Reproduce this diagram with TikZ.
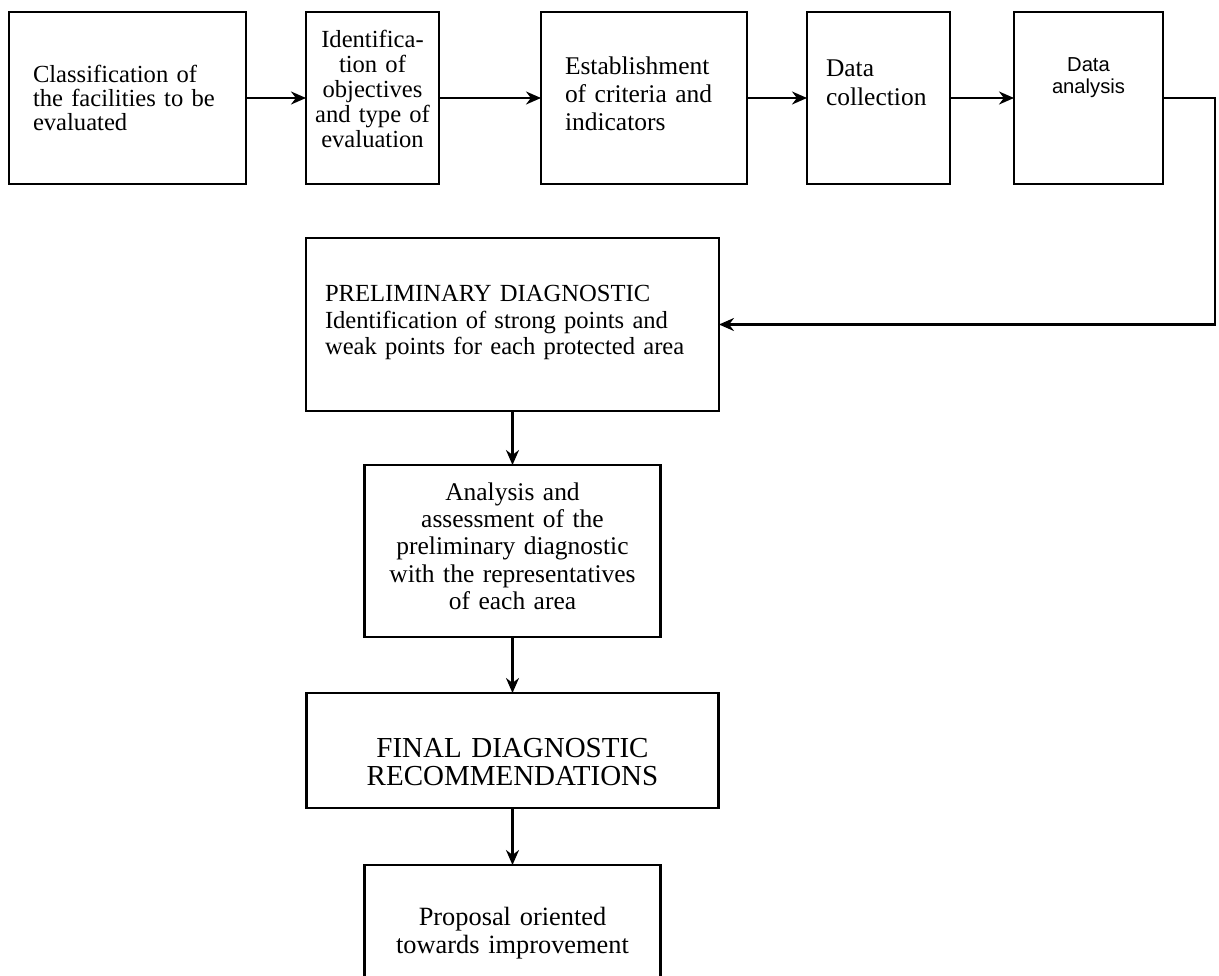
\documentclass[tikz,border=0pt]{standalone}
\usepackage{fontspec}
\setmainfont{Liberation Serif}
\newfontfamily\arialfont{Liberation Sans}
\usepackage{tikz}
\usetikzlibrary{positioning, arrows.meta}
\tikzset{step box/.style={rectangle, draw, line width=1.2pt, inner sep=0pt, outer sep=0pt,
    minimum height=3.44cm, font=\fontsize{14.5}{15.8}\selectfont},
  flow/.style={line width=1.2pt, -{Stealth[length=0.3cm, width=0.26cm]}},}

\begin{document}
\begin{tikzpicture}
				\useasboundingbox (0,0) rectangle (24.38,-19.52);
				% Top row
				\node[step box, text width=3.78cm, inner xsep=0.48cm, align=left,
					text height=1.41cm, text depth=2.03cm, font=\fontsize{14}{13.6}\selectfont] (1) at (2.55,-1.96)
					{Classification of\\the facilities to be\\evaluated};
				\node[step box, text width=2.46cm, inner xsep=0.1cm, align=center,
					text height=0.72cm, text depth=2.72cm, font=\fontsize{14}{14.2}\selectfont] [right = 1.2cm of 1] (2)
					{Identifica-\\tion of\\objectives\\and type of\\evaluation};
				\node[step box, text width=3.16cm, inner xsep=0.48cm, align=left,
					text height=1.26cm, text depth=2.18cm] [right = 2.04cm of 2] (3)
					{Establishment\\of criteria and\\indicators};
				\node[step box, text width=2.1cm, inner xsep=0.38cm, align=left,
					text height=1.29cm, text depth=2.15cm, font=\fontsize{14.5}{16.4}\selectfont] [right = 1.2cm of 3] (4)
					{Data\\collection};
				\node[step box, text width=2.78cm, inner xsep=0.1cm, align=center,
					text height=1.19cm, text depth=2.25cm, font=\arialfont\fontsize{11.5}{12.5}\selectfont]
					[right = 1.28cm of 4] (5) {Data\\analysis};
				\coordinate [right = 1.04cm of 5] (turn);
				% Diagnostic column
				\node[step box, minimum height=3.46cm, text width=7.5cm, inner xsep=0.38cm, align=left,
					text height=1.27cm, text depth=2.19cm, font=\fontsize{14}{15.1}\selectfont]
					[below = 1.08cm of 2.south west, anchor=north west] (6)
					{PRELIMINARY DIAGNOSTIC\\Identification of strong points and\\weak points for each protected area};
				\node[step box, text width=5.72cm, inner xsep=0.1cm, align=center,
					text height=0.7cm, text depth=2.74cm, font=\fontsize{14.5}{15.6}\selectfont] [below = 1.08cm of 6] (7)
					{Analysis and\\assessment of the\\preliminary diagnostic\\with the representatives\\of each area};
				\node[step box, minimum height=2.3cm, text width=8.04cm, inner xsep=0.1cm, align=center,
					text height=1.28cm, text depth=1.02cm, font=\fontsize{16.5}{16.4}\selectfont] [below = 1.12cm of 7] (8)
					{FINAL DIAGNOSTIC\\RECOMMENDATIONS};
				\node[step box, text width=5.72cm, inner xsep=0.1cm, align=center,
					text height=1.2cm, text depth=2.24cm, font=\fontsize{15}{16.4}\selectfont] [below = 1.14cm of 8] (9)
					{Proposal oriented\\towards improvement};
				% Paths
				\path[flow]
				(1) edge (2)
				(2) edge (3)
				(3) edge (4)
				(4) edge (5)
				(6) edge (7)
				(7) edge (8)
				(8) edge (9);
				\draw[flow] (5.east) -- (turn) |- (6.east);
			\end{tikzpicture}
\end{document}
